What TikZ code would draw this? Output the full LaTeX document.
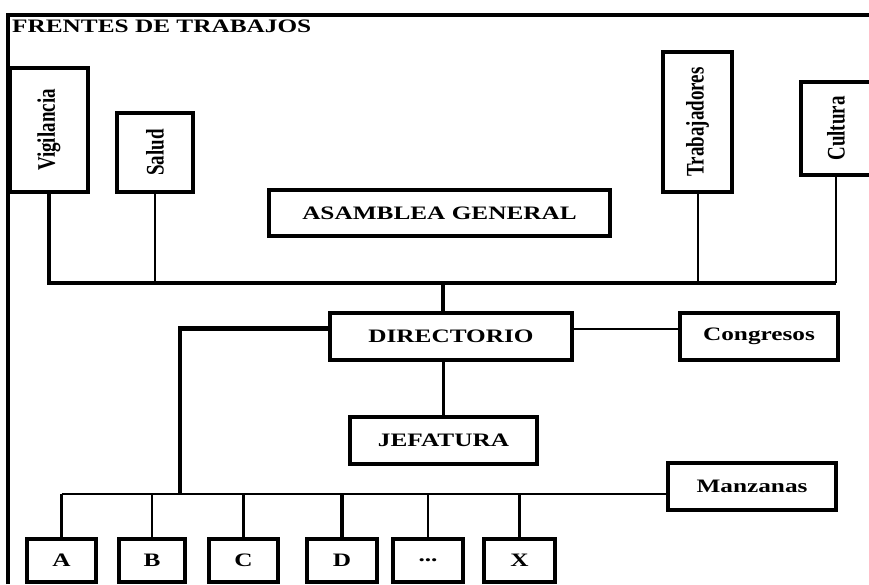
\documentclass[tikz,border=0pt]{standalone}
\usepackage{fontspec}
\usepackage{graphicx}
\setmainfont{Liberation Serif}
\newfontface\widebf{Liberation Serif Bold}[FakeStretch=1.33]
\newfontface\plainbf{Liberation Serif Bold}
\newcommand{\upword}[1]{\rotatebox{90}{\scalebox{1}[1.33]{#1}}}
\begin{document}
\begin{tikzpicture}[x=1pt,y=-1pt,
    box/.style={draw,line width=3.2pt,inner sep=0pt,font=\fontsize{19}{22}\widebf},
    upbox/.style={draw,line width=3.2pt,inner sep=0pt,font=\fontsize{19}{22}\plainbf},
    bus/.style={line width=3.6pt}]
    \useasboundingbox (0,0) rectangle (869,584);
    %frame
    \draw [line width=3.4pt] (8,584) -- (8,15) -- (869,15);
    \node (title) [anchor=base west,inner sep=0pt,font=\fontsize{19}{22}\widebf] at (12,32) {FRENTES DE TRABAJOS};
    %fronts
    \node (vig) [upbox,minimum width=78pt,minimum height=124pt] at (49,130) {\upword{Vigilancia}};
    \node (sal) [upbox,minimum width=76pt,minimum height=79pt] at (155,152.5) {\upword{Salud}};
    \node (trab) [upbox,minimum width=69pt,minimum height=140pt] at (697.5,122) {\upword{Trabajadores}};
    \node (cul) [upbox,minimum width=70pt,minimum height=93pt] at (836,128.5) {\upword{Cultura}};
    %assembly
    \node (asam) [box,minimum width=341pt,minimum height=46pt] at (439.5,213) {ASAMBLEA GENERAL};
    %direction
    \node (dir) [box,minimum width=242pt,minimum height=47pt] at (451,336.5) {DIRECTORIO};
    \node (cong) [box,minimum width=158pt,minimum height=47pt] at (759,336.5) {Congresos};
    \node (jef) [box,minimum width=187pt,minimum height=47pt] at (443.5,440.5) {JEFATURA};
    \node (manz) [box,minimum width=168pt,minimum height=47pt] at (752,486.5) {Manzanas};
    %blocks
    \node (a) [box,minimum width=69pt,minimum height=43pt] at (61.5,560.5) {A};
    \node (b) [box,minimum width=66pt,minimum height=43pt] at (152,560.5) {B};
    \node (c) [box,minimum width=69pt,minimum height=43pt] at (243.5,560.5) {C};
    \node (d) [box,minimum width=70pt,minimum height=43pt] at (342,560.5) {D};
    \node (dots) [box,minimum width=70pt,minimum height=43pt] at (428,560.5) {...};
    \node (x) [box,minimum width=71pt,minimum height=43pt] at (519.5,560.5) {X};
    %edges
    \coordinate (busM) at (443,283);
    \coordinate (split) at (180,494);
    \draw [bus] (vig.south) |- (cul.south |- busM);
    \draw [line width=2.6pt] (sal.south) -- (sal.south |- busM);
    \draw [line width=2pt] (trab.south) -- (trab.south |- busM);
    \draw [line width=2pt] (cul.south) -- (cul.south |- busM);
    \draw [line width=3.2pt] (busM) -- (busM |- dir.north);
    \draw [line width=3.2pt] (dir.south -| jef.north) -- (jef.north);
    \draw [line width=2pt] ([yshift=8pt]dir.east) -- ([yshift=8pt]dir.east -| cong.west);
    \draw [line width=4.6pt] ([yshift=8pt]dir.west) -| (split);
    \draw [line width=2.8pt] (a.north |- split) -- (manz.west |- split);
    \draw [line width=2.6pt] (a.north) -- (a.north |- split);
    \draw [line width=2.6pt] (b.north) -- (b.north |- split);
    \draw [line width=3.4pt] (c.north) -- (c.north |- split);
    \draw [line width=3.4pt] (d.north) -- (d.north |- split);
    \draw [line width=2.4pt] (dots.north) -- (dots.north |- split);
    \draw [line width=3.4pt] (x.north) -- (x.north |- split);
\end{tikzpicture}
\end{document}
